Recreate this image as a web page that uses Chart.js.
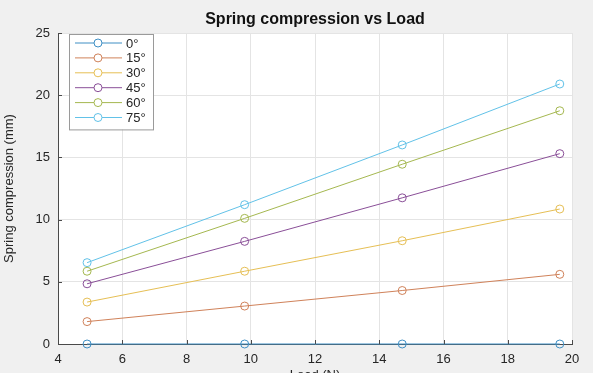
<!DOCTYPE html>
<html>
<head>
<meta charset="utf-8">
<title>Spring compression vs Load</title>
<script src="https://cdn.jsdelivr.net/npm/chart.js@4/dist/chart.umd.min.js"></script>
<style>
    html, body {
        margin: 0;
        padding: 0;
        background: #f0f0f0;
        overflow: hidden;
    }
    /* a bit taller than the window so the x title gets cut off like the screenshot */
    #wrap {
        width: 593px;
        height: 390px;
    }
</style>
</head>
<body>
<div id="wrap"><canvas id="spring-chart"></canvas></div>
<script>
// load on the spring in newtons (0.5, 1, 1.5, 2 kg)
const loads = [4.905, 9.81, 14.715, 19.62];

// incline angles, one line each
const angleLabels = ['0°', '15°', '30°', '45°', '60°', '75°'];

// spring compression in mm
const comp0 = [0, 0, 0, 0];
const comp15 = [1.8, 3.05, 4.3, 5.6];
const comp30 = [3.37, 5.85, 8.3, 10.85];
const comp45 = [4.84, 8.25, 11.75, 15.3];
const comp60 = [5.85, 10.1, 14.45, 18.75];
const comp75 = [6.54, 11.2, 16.0, 20.9];

// axis ranges / ticks
const xTicks = [4, 6, 8, 10, 12, 14, 16, 18, 20];
const yTicks = [0, 5, 10, 15, 20, 25];

const chartTitle = 'Spring compression vs Load';

// matlab-ish colours, a little washed out like the screenshot
const lineColors = ['#3f8fc4', '#d0825a', '#e6bf55', '#8a4f98', '#a5b850', '#62c2e8'];
const TEXT_COLOR = '#262626';
const GRID_COLOR = '#e4e4e4';
const AXIS_COLOR = '#4a4a4a';
const FONT = 'Liberation Sans, Arial, Helvetica, sans-serif';

const allComp = [comp0, comp15, comp30, comp45, comp60, comp75];


// pairs up loads with a series so chart.js can use a linear x axis
function toPoints(values) {
    const pts = [];
    for (let i = 0; i < loads.length; i++) {
        pts.push({ x: loads[i], y: values[i] });
    }
    return pts;
}


// builds one dataset per angle
function buildDatasets() {
    const sets = [];
    for (let i = 0; i < angleLabels.length; i++) {
        sets.push({
            label: angleLabels[i],
            data: toPoints(allComp[i]),
            borderColor: lineColors[i],
            backgroundColor: 'rgba(0,0,0,0)',
            borderWidth: 1,
            pointRadius: 4,
            pointHoverRadius: 4,
            pointBorderWidth: 1,
            pointBackgroundColor: 'rgba(0,0,0,0)',
            pointBorderColor: lineColors[i],
            tension: 0,
            clip: false
        });
    }
    return sets;
}


// white plot box on the grey figure background
const plotBackground = {
    id: 'plotBackground',
    beforeDraw(chart) {
        const a = chart.chartArea;
        const ctx = chart.ctx;
        ctx.save();
        ctx.fillStyle = '#ffffff';
        ctx.fillRect(a.left, a.top, a.right - a.left, a.bottom - a.top);
        ctx.restore();
    }
};


// title centred over the plot box (matlab does that, chart.js centres on the canvas)
const plotTitle = {
    id: 'plotTitle',
    afterDraw(chart) {
        const a = chart.chartArea;
        const ctx = chart.ctx;
        ctx.save();
        ctx.font = 'bold 16px ' + FONT;
        ctx.fillStyle = '#111111';
        ctx.textAlign = 'center';
        ctx.textBaseline = 'middle';
        ctx.fillText(chartTitle, (a.left + a.right) / 2, a.top - 13);
        ctx.restore();
    }
};


// small inward tick marks like matlab
const innerTicks = {
    id: 'innerTicks',
    afterDraw(chart) {
        const ctx = chart.ctx;
        const xs = chart.scales.x;
        const ys = chart.scales.y;
        const a = chart.chartArea;
        ctx.save();
        ctx.strokeStyle = AXIS_COLOR;
        ctx.lineWidth = 1;
        ctx.beginPath();
        xTicks.forEach(function(t) {
            const px = Math.round(xs.getPixelForValue(t)) + 0.5;
            ctx.moveTo(px, a.bottom);
            ctx.lineTo(px, a.bottom - 4);
        });
        yTicks.forEach(function(t) {
            const py = Math.round(ys.getPixelForValue(t)) + 0.5;
            ctx.moveTo(a.left, py);
            ctx.lineTo(a.left + 4, py);
        });
        ctx.stroke();
        ctx.restore();
    }
};


// legend box in the top left corner of the plot
const boxLegend = {
    id: 'boxLegend',
    afterDatasetsDraw(chart) {
        const ctx = chart.ctx;
        const a = chart.chartArea;
        const sets = chart.data.datasets;
        const left = a.left + 11;
        const top = a.top + 1;
        const rowH = 14.9;
        const boxW = 84;
        const boxH = 10 + rowH * sets.length - 4;

        ctx.save();
        ctx.fillStyle = '#ffffff';
        ctx.fillRect(left, top, boxW, boxH);
        ctx.strokeStyle = '#9a9a9a';
        ctx.lineWidth = 1;
        ctx.strokeRect(left + 0.5, top + 0.5, boxW, boxH);

        ctx.font = '13px ' + FONT;
        ctx.textBaseline = 'middle';
        ctx.textAlign = 'left';
        for (let i = 0; i < sets.length; i++) {
            const cy = top + 9 + i * rowH;
            ctx.strokeStyle = sets[i].borderColor;
            ctx.beginPath();
            ctx.moveTo(left + 6, cy);
            ctx.lineTo(left + 53, cy);
            ctx.stroke();
            ctx.beginPath();
            ctx.arc(left + 29, cy, 4, 0, Math.PI * 2);
            ctx.fillStyle = '#ffffff';
            ctx.fill();
            ctx.stroke();
            ctx.fillStyle = TEXT_COLOR;
            ctx.fillText(sets[i].label, left + 57, cy + 1);
        }
        ctx.restore();
    }
};


function makeChart() {
    const ctx = document.getElementById('spring-chart').getContext('2d');
    new Chart(ctx, {
        type: 'line',
        data: { datasets: buildDatasets() },
        options: {
            responsive: true,
            maintainAspectRatio: false,
            animation: false,
            // top padding leaves room for the title drawn by plotTitle
            layout: { padding: { left: 0, right: 21, top: 33, bottom: 0 } },
            plugins: {
                legend: { display: false },
                tooltip: { enabled: false },
                title: { display: false }
            },
            scales: {
                x: {
                    type: 'linear',
                    min: xTicks[0],
                    max: xTicks[xTicks.length - 1],
                    afterBuildTicks: function(scale) {
                        scale.ticks = xTicks.map(function(v) { return { value: v }; });
                    },
                    afterFit: function(scale) { scale.height = 46; },
                    grid: { color: GRID_COLOR, drawTicks: false },
                    border: { color: AXIS_COLOR, width: 1 },
                    ticks: {
                        color: TEXT_COLOR,
                        padding: 8,
                        maxRotation: 0,
                        font: { family: FONT, size: 13 }
                    },
                    title: {
                        display: true,
                        text: 'Load (N)',
                        color: TEXT_COLOR,
                        font: { family: FONT, size: 13 },
                        padding: { top: 0, bottom: 7 }
                    }
                },
                y: {
                    min: yTicks[0],
                    max: yTicks[yTicks.length - 1],
                    afterBuildTicks: function(scale) {
                        scale.ticks = yTicks.map(function(v) { return { value: v }; });
                    },
                    afterFit: function(scale) { scale.width = 58; },
                    grid: { color: GRID_COLOR, drawTicks: false },
                    border: { color: AXIS_COLOR, width: 1 },
                    ticks: {
                        color: TEXT_COLOR,
                        padding: 8,
                        font: { family: FONT, size: 13 }
                    },
                    title: {
                        display: true,
                        text: 'Spring compression (mm)',
                        color: TEXT_COLOR,
                        font: { family: FONT, size: 13 },
                        padding: { top: 2, bottom: 0 }
                    }
                }
            }
        },
        plugins: [plotBackground, innerTicks, boxLegend, plotTitle]
    });
}

makeChart();
</script>
</body>
</html>
